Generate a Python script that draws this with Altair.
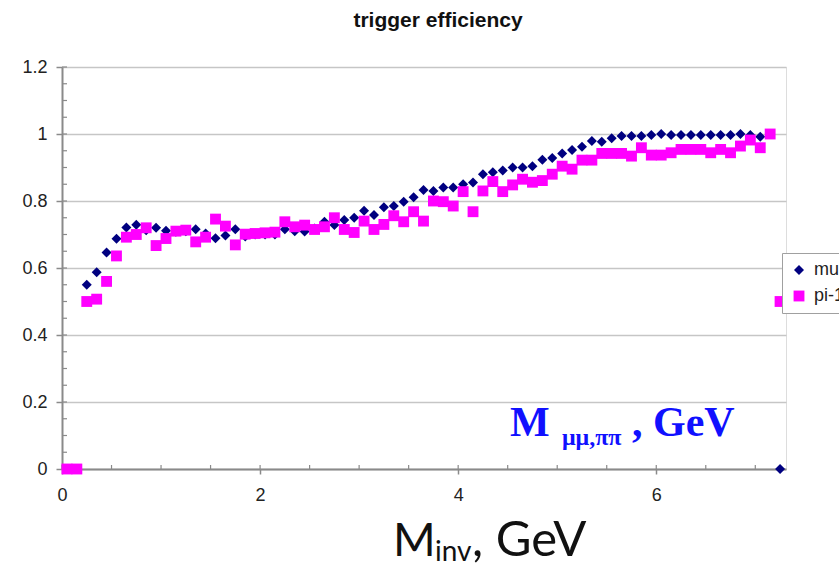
import altair as alt
import pandas as pd

# ---------------- data ----------------
mass = [0.05, 0.15, 0.25, 0.35, 0.45, 0.55, 0.65, 0.75, 0.85, 0.95,
        1.05, 1.15, 1.25, 1.35, 1.45, 1.55, 1.65, 1.75, 1.85, 1.95,
        2.05, 2.15, 2.25, 2.35, 2.45, 2.55, 2.65, 2.75, 2.85, 2.95,
        3.05, 3.15, 3.25, 3.35, 3.45, 3.55, 3.65, 3.75, 3.85, 3.95,
        4.05, 4.15, 4.25, 4.35, 4.45, 4.55, 4.65, 4.75, 4.85, 4.95,
        5.05, 5.15, 5.25, 5.35, 5.45, 5.55, 5.65, 5.75, 5.85, 5.95,
        6.05, 6.15, 6.25, 6.35, 6.45, 6.55, 6.65, 6.75, 6.85, 6.95,
        7.05, 7.15, 7.25]

mu_eff = [0.0, 0.0, 0.550, 0.587, 0.646, 0.687, 0.721, 0.729, 0.713, 0.720,
          0.711, 0.708, 0.710, 0.716, 0.703, 0.689, 0.697, 0.716, 0.694, 0.700,
          0.700, 0.700, 0.716, 0.710, 0.709, 0.718, 0.738, 0.728, 0.743, 0.750,
          0.771, 0.758, 0.781, 0.785, 0.798, 0.811, 0.833, 0.830, 0.840, 0.840,
          0.850, 0.855, 0.880, 0.886, 0.891, 0.900, 0.900, 0.904, 0.923, 0.928,
          0.942, 0.952, 0.962, 0.979, 0.977, 0.987, 0.994, 0.994, 0.994, 0.997,
          1.000, 0.997, 0.997, 0.997, 0.997, 0.997, 0.997, 0.997, 1.000, 0.997,
          0.992, 1.000, 0.0]

pi_eff = [0.0, 0.0, 0.500, 0.507, 0.560, 0.636, 0.692, 0.700, 0.720, 0.667,
          0.688, 0.710, 0.713, 0.678, 0.692, 0.746, 0.725, 0.669, 0.701, 0.703,
          0.705, 0.707, 0.738, 0.723, 0.728, 0.715, 0.723, 0.750, 0.715, 0.706,
          0.740, 0.715, 0.730, 0.756, 0.738, 0.768, 0.740, 0.800, 0.798, 0.785,
          0.828, 0.768, 0.830, 0.858, 0.828, 0.848, 0.865, 0.856, 0.861, 0.880,
          0.904, 0.895, 0.922, 0.922, 0.942, 0.942, 0.942, 0.934, 0.959, 0.937,
          0.937, 0.944, 0.954, 0.954, 0.954, 0.944, 0.954, 0.944, 0.964, 0.982,
          0.959, 1.000, 0.500]

series_names = ["mu-mu", "pi-1pi"]
series_colors = ["#000080", "#ff00ff"]
series_shapes = ["diamond", "square"]

x_ticks = [0, 2, 4, 6]
y_ticks = [0, 0.2, 0.4, 0.6, 0.8, 1.0, 1.2]
x_minor = [0, 0.5, 1, 1.5, 2, 2.5, 3, 3.5, 4, 4.5, 5, 5.5, 6, 6.5, 7]
y_minor = [round(i * 0.05, 2) for i in range(25)]

title_text = "trigger efficiency"

# ---------------- tables ----------------
rows = []
for name, vals in zip(series_names, [mu_eff, pi_eff]):
    for m, v in zip(mass, vals):
        rows.append({"mass": m, "eff": v, "series": name})
df = pd.DataFrame(rows)

xminor_df = pd.DataFrame({"mass": x_minor})
yminor_df = pd.DataFrame({"eff": y_minor})

W, H = 724, 402
AXIS_GRAY = "#8a8a8a"
FONT = "Liberation Sans"

x_scale = alt.Scale(domain=[0, 7.31], nice=False, zero=False)
y_scale = alt.Scale(domain=[0, 1.2], nice=False)

x_enc = alt.X("mass:Q", scale=x_scale,
              axis=alt.Axis(values=x_ticks, title=None, grid=False, format="~g",
                            tickSize=5, tickWidth=1.5, tickColor=AXIS_GRAY,
                            domainColor=AXIS_GRAY, domainWidth=2,
                            labelFont=FONT, labelFontSize=18, labelColor="#222222",
                            labelPadding=12, labelFlush=False))
y_enc = alt.Y("eff:Q", scale=y_scale,
              axis=alt.Axis(values=y_ticks, title=None, grid=True, format="~g",
                            gridColor="#c6c6c6", gridWidth=1.5,
                            tickSize=6, tickWidth=1.5, tickColor=AXIS_GRAY,
                            domainColor=AXIS_GRAY, domainWidth=2,
                            labelFont=FONT, labelFontSize=18, labelColor="#222222",
                            labelPadding=9, labelFlush=False))

leg = alt.Legend(title=None, orient="none", legendX=720, legendY=186,
                 strokeColor="#a0a0a0", fillColor="white", padding=8,
                 labelFont=FONT, labelFontSize=18, labelColor="#222222",
                 labelOffset=6, rowPadding=8, symbolSize=100, symbolStrokeWidth=0)

points = alt.Chart(df).mark_point(filled=True, opacity=1, strokeWidth=0).encode(
    x=x_enc,
    y=y_enc,
    color=alt.Color("series:N", scale=alt.Scale(domain=series_names, range=series_colors), legend=leg),
    shape=alt.Shape("series:N", scale=alt.Scale(domain=series_names, range=series_shapes), legend=leg),
    size=alt.Size("series:N", scale=alt.Scale(domain=series_names, range=[100, 118]), legend=None),
)

xminor_rules = alt.Chart(xminor_df).mark_rule(color=AXIS_GRAY, strokeWidth=1.2).encode(
    x=x_enc, y=alt.value(H - 4), y2=alt.value(H)
)
yminor_rules = alt.Chart(yminor_df).mark_rule(color=AXIS_GRAY, strokeWidth=1.2).encode(
    y=y_enc, x=alt.value(0), x2=alt.value(5)
)

def label(text, x, y, size, color, font, weight="normal"):
    return alt.Chart(pd.DataFrame({"t": [text]})).mark_text(
        align="left", baseline="alphabetic", fontSize=size, color=color,
        font=font, fontWeight=weight
    ).encode(x=alt.value(x), y=alt.value(y), text="t:N")

BLUE = "#1010ff"
ann = [
    label("M", 448, 369, 42, BLUE, "Liberation Serif", "bold"),
    label("μμ,ππ", 500, 378, 24, BLUE, "Liberation Serif", "bold"),
    label(", GeV", 570, 369, 42, BLUE, "Liberation Serif", "bold"),
    label("M", 331, 489, 46, "#111111", "Lato"),
    label("inv", 373, 494, 28, "#111111", "Lato"),
    label(", GeV", 410, 489, 49, "#111111", "Lato"),
]

chart = alt.layer(yminor_rules, xminor_rules, points, *ann).properties(
    width=W, height=H,
    title=alt.TitleParams(title_text, font=FONT, fontSize=21, fontWeight="bold",
                          color="#111111", anchor="middle", dx=14, offset=10,
                          baseline="alphabetic"),
    autosize=alt.AutoSizeParams(type="none"),
    padding={"left": 62, "top": 67, "right": 53, "bottom": 98},
).configure_view(stroke="#a8a8a8", strokeWidth=1.5).configure(background="white")

chart.save("out.html", embed_options={"renderer": "svg", "actions": False})
